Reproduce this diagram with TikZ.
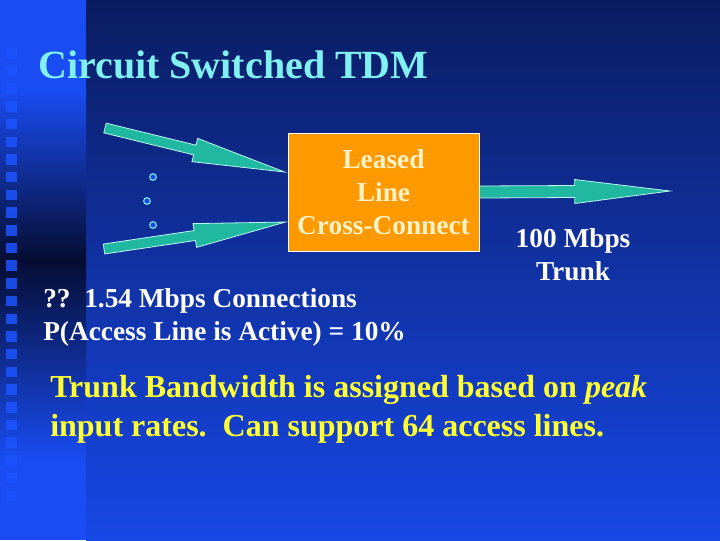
\documentclass[tikz,border=0pt]{standalone}
\usepackage{fontspec}
\setmainfont{Liberation Serif}
\usetikzlibrary{calc,positioning}
\definecolor{mynavy}{rgb}{0.04,0.11,0.38}
\definecolor{myblue}{rgb}{0.09,0.28,0.90}
\definecolor{mystrip}{rgb}{0.10,0.30,0.95}
\definecolor{mydark}{rgb}{0.02,0.05,0.20}
\definecolor{mysquare}{rgb}{0.11,0.33,1.0}
\definecolor{myteal}{rgb}{0.13,0.72,0.63}
\definecolor{myedge}{rgb}{0.75,0.97,0.94}
\definecolor{myorange}{rgb}{1,0.6,0}
\definecolor{mycream}{rgb}{1,0.95,0.78}
\definecolor{mycyan}{rgb}{0.5,0.94,0.94}
\definecolor{myyellow}{rgb}{1,1,0.2}
\newcommand{\blockarrow}[3]{%
  \filldraw[fill=myteal, draw=myedge, line width=0.6pt]
    ($(#1)!#3!90:(#2)$) -- ($(#1)!0.5!(#2)!#3!90:(#2)$) -- ($(#1)!0.5!(#2)!9pt!90:(#2)$) -- (#2)
    -- ($(#1)!0.5!(#2)!9pt!-90:(#2)$) -- ($(#1)!0.5!(#2)!#3!-90:(#2)$) -- ($(#1)!#3!-90:(#2)$) -- cycle;}

\begin{document}
\begin{tikzpicture}[x=0.75pt, y=-0.75pt, font=\bfseries\fontsize{20.5}{24.6}\selectfont]
	\useasboundingbox (0,0) rectangle (720,540);
	% Draw the background and the strip on the left
	\shade[top color=mynavy, bottom color=myblue] (86,0) rectangle (720,540);
	\fill[mystrip] (0,0) rectangle (86,90);
	\shade[top color=mystrip, bottom color=mydark] (0,90) rectangle (86,260);
	\shade[top color=mydark, bottom color=mystrip] (0,260) rectangle (86,460);
	\fill[mystrip] (0,460) rectangle (86,540);
	\foreach \i in {0,...,25}
		\fill[mysquare, opacity=0.85] (6,{48+17.7*\i}) rectangle ++(11,10.5);

	% Title
	\node[anchor=base west, inner sep=0, text=mycyan, font=\bfseries\fontsize{30}{36}\selectfont] (title) at (38,78) {Circuit Switched TDM};

	% The cross-connect box
	\node[draw=white, line width=0.6pt, fill=myorange, text=mycream, align=center, inner sep=0, minimum width=143.25pt, minimum height=88.5pt] (xconn) at (383.5,192) {Leased\\Line\\Cross-Connect};

	% Draw the access lines and the trunk
	\coordinate (inA) at (105,128);
	\coordinate (tipA) at ($(xconn.west)+(-3,-20)$);
	\coordinate (inB) at (104,249);
	\coordinate (tipB) at ($(xconn.west)+(-2,30)$);
	\coordinate (trunkend) at (670,191);
	\blockarrow{inA}{tipA}{3.75pt}
	\blockarrow{inB}{tipB}{3.75pt}
	\blockarrow{xconn.east}{trunkend}{4.5pt}

	% The dots between the access lines
	\node[circle, draw=mycyan, fill=myblue, line width=0.8pt, inner sep=0, minimum size=5pt] (dot1) at (153,177) {};
	\node[circle, draw=mycyan, fill=myblue, line width=0.8pt, inner sep=0, minimum size=5pt] (dot2) at (147,201) {};
	\node[circle, draw=mycyan, fill=myblue, line width=0.8pt, inner sep=0, minimum size=5pt] (dot3) at (153,225) {};

	% Label the trunk and the access lines
	\node[align=center, text=white, inner sep=0] (trunklbl) at (573,255) {100 Mbps\\Trunk};
	\node[anchor=base west, text=white, inner sep=0] (rate) at (43,307) {??\ \ 1.54 Mbps Connections};
	\node[anchor=base west, text=white, inner sep=0] (prob) at ([yshift=-24.75pt]rate.base west) {P(Access Line is Active) = 10\%};

	% Put the conclusion
	\node[anchor=base west, text=myyellow, inner sep=0, font=\bfseries\fontsize{24}{29}\selectfont] (bw1) at (50,397) {Trunk Bandwidth is assigned based on \textit{peak}};
	\node[anchor=base west, text=myyellow, inner sep=0, font=\bfseries\fontsize{24}{29}\selectfont] (bw2) at ([yshift=-29.25pt]bw1.base west) {input rates.\ \ Can support 64 access lines.};
\end{tikzpicture}
\end{document}
